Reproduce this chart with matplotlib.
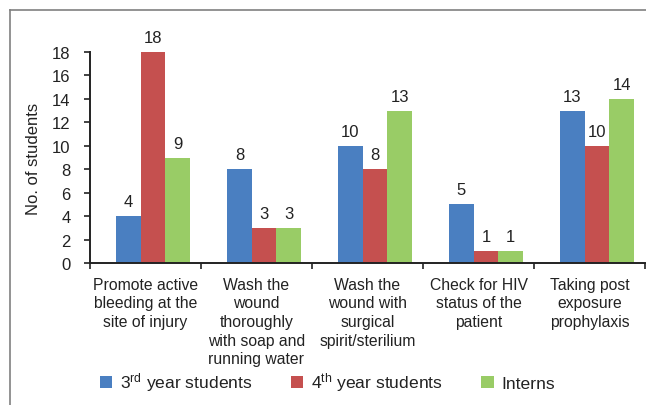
import matplotlib
matplotlib.use("Agg")
import matplotlib.pyplot as plt
import numpy as np
from matplotlib.lines import Line2D

plt.rcParams['font.family'] = ['Liberation Sans', 'DejaVu Sans']
plt.rcParams['mathtext.fontset'] = 'custom'
plt.rcParams['mathtext.rm'] = 'Liberation Sans'
plt.rcParams['mathtext.it'] = 'Liberation Sans'

categories = ["Promote active\nbleeding at the\nsite of injury",
              "Wash the\nwound\nthoroughly\nwith soap and\nrunning water",
              "Wash the\nwound with\nsurgical\nspirit/sterilium",
              "Check for HIV\nstatus of the\npatient",
              "Taking post\nexposure\nprophylaxis"]
third_year = [4, 8, 10, 5, 13]
fourth_year = [18, 3, 8, 1, 10]
interns = [9, 3, 13, 1, 14]
series_names = ["3$^{\\mathrm{rd}}$ year students", "4$^{\\mathrm{th}}$ year students", "Interns"]
colors = ["#4A7FC1", "#C5504F", "#99CC66"]
yticks = [0, 2, 4, 6, 8, 10, 12, 14, 16, 18]

txt = '#222222'
fig = plt.figure(figsize=(6.46, 4.06), dpi=100)
ax = fig.add_axes([90/646, 1-264/406, (645-90)/646, (264-53)/406])

x = np.arange(len(categories))
w = 0.222
d = 0.068
for k, (vals, name, c) in enumerate(zip([third_year, fourth_year, interns], series_names, colors)):
    bars = ax.bar(x + (k-1)*w, vals, w, color=c, label=name)
    for b, v in zip(bars, vals):
        ax.annotate(str(v), (b.get_x()+b.get_width()/2, v), xytext=(0, 5),
                    textcoords='offset points', ha='center', va='bottom',
                    fontsize=12, color=txt)

ax.set_ylim(0, 18)
ax.set_xlim(-0.5-d, len(categories)-0.5-d)
ax.set_yticks(yticks)
ax.set_yticklabels([str(t) for t in yticks], fontsize=12, color=txt)
ax.set_xticks(np.arange(len(categories)+1) - 0.5 - d)
ax.set_xticklabels([])
ax.set_xticks(x - d, minor=True)
ax.set_xticklabels(categories, minor=True, fontsize=11.3, color=txt, linespacing=1.3)
ax.tick_params(axis='x', which='major', direction='out', length=4.5, width=1.2, color='#222222')
ax.tick_params(axis='x', which='minor', length=0, pad=10)
ax.tick_params(axis='y', direction='out', length=4, width=1.2, pad=10, color='#222222')
for s in ['top', 'right']:
    ax.spines[s].set_visible(False)
for s in ['left', 'bottom']:
    ax.spines[s].set_linewidth(1.4)
    ax.spines[s].set_color('#222222')
ax.set_ylabel("No. of students", fontsize=12, color=txt, labelpad=8)

fig.legend(loc='center', bbox_to_anchor=(0.507, 1-383/406), ncol=3, frameon=False,
           fontsize=12.6, handlelength=0.7, handleheight=0.7, handletextpad=0.45,
           columnspacing=2.2, labelcolor=txt)

fig.add_artist(Line2D([10/646, 10/646], [0, 1-10.5/406], transform=fig.transFigure,
                      color='#808080', lw=1.2))
fig.add_artist(Line2D([10/646, 1], [1-10.5/406, 1-10.5/406], transform=fig.transFigure,
                      color='#808080', lw=1.2))

fig.savefig("out.png", dpi=100)
